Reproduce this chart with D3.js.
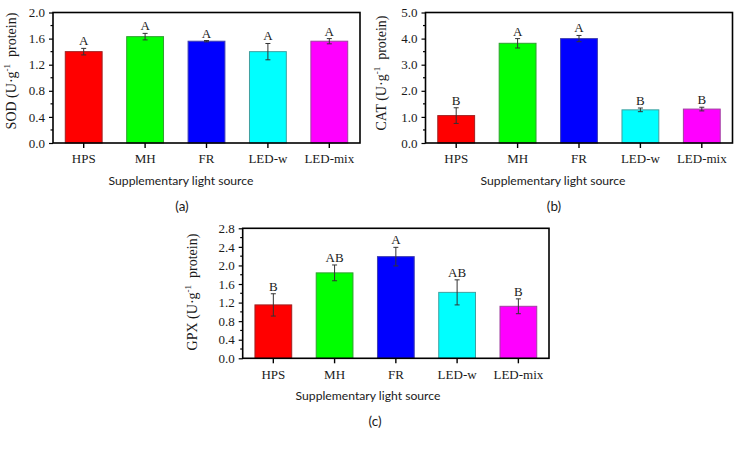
<!DOCTYPE html>
<html>
<head>
<meta charset="utf-8">
<script src="https://cdn.jsdelivr.net/npm/d3@7"></script>
<style>
  html, body { margin: 0; padding: 0; background: #fff; }
  svg { display: block; }
  .serif { font-family: "Liberation Serif", "Times New Roman", serif; fill: #1a1a1a; }
  .sans { font-family: Lato, "Open Sans", sans-serif; fill: #1a1a1a; }
</style>
</head>
<body>
<svg id="chart" width="742" height="450"></svg>
<script>
// ---------- data ----------
const categories = ["HPS", "MH", "FR", "LED-w", "LED-mix"];
const barColors = ["#ff0000", "#00ff00", "#0000ff", "#00ffff", "#ff00ff"];
const barStrokes = ["#a02020", "#30a030", "#4040b0", "#40a0a0", "#a040a0"];

const sodMean = [1.40, 1.63, 1.56, 1.40, 1.56];
const sodErr = [0.05, 0.05, 0.01, 0.125, 0.04];
const sodLetters = ["A", "A", "A", "A", "A"];
const sodTicks = [0.0, 0.4, 0.8, 1.2, 1.6, 2.0];

const catMean = [1.05, 3.82, 4.00, 1.27, 1.30];
const catErr = [0.30, 0.18, 0.12, 0.07, 0.07];
const catLetters = ["B", "A", "A", "B", "B"];
const catTicks = [0.0, 1.0, 2.0, 3.0, 4.0, 5.0];

const gpxMean = [1.15, 1.84, 2.19, 1.42, 1.12];
const gpxErr = [0.24, 0.17, 0.20, 0.27, 0.16];
const gpxLetters = ["B", "AB", "A", "AB", "B"];
const gpxTicks = [0.0, 0.4, 0.8, 1.2, 1.6, 2.0, 2.4, 2.8];

const xTitle = "Supplementary light source";

// ---------- drawing ----------
const svg = d3.select("#chart");
svg.append("rect").attr("width", 742).attr("height", 450).attr("fill", "#fff");

function panel(opts) {
  const { left, right, top, bottom, mean, err, letters, ticks, minorStep,
          yName, titleX, titleY, xTitleCX, tagCX, tag } = opts;
  const g = svg.append("g");
  const x = d3.scaleBand().domain(categories).range([left, right])
    .paddingInner(0.4).paddingOuter(0.2);
  const yMax = ticks[ticks.length - 1];
  const y = d3.scaleLinear().domain([0, yMax]).range([bottom, top]);

  // bars
  g.selectAll("rect.bar").data(categories).join("rect")
    .attr("class", "bar")
    .attr("x", d => x(d))
    .attr("width", x.bandwidth())
    .attr("y", (d, i) => y(mean[i]))
    .attr("height", (d, i) => bottom - y(mean[i]))
    .attr("fill", (d, i) => barColors[i])
    .attr("stroke", (d, i) => barStrokes[i])
    .attr("stroke-width", 1);

  // error bars
  const eb = g.selectAll("g.err").data(categories).join("g").attr("class", "err")
    .attr("stroke", "#333").attr("stroke-width", 1);
  const cx = d => x(d) + x.bandwidth() / 2;
  eb.append("line")
    .attr("x1", cx).attr("x2", cx)
    .attr("y1", (d, i) => y(mean[i] - err[i]))
    .attr("y2", (d, i) => y(mean[i] + err[i]));
  eb.append("line")
    .attr("x1", d => cx(d) - 2.5).attr("x2", d => cx(d) + 2.5)
    .attr("y1", (d, i) => y(mean[i] + err[i]))
    .attr("y2", (d, i) => y(mean[i] + err[i]));
  eb.append("line")
    .attr("x1", d => cx(d) - 2.5).attr("x2", d => cx(d) + 2.5)
    .attr("y1", (d, i) => y(mean[i] - err[i]))
    .attr("y2", (d, i) => y(mean[i] - err[i]));

  // significance letters
  g.selectAll("text.letter").data(categories).join("text")
    .attr("class", "serif letter")
    .attr("x", cx)
    .attr("y", (d, i) => y(mean[i] + err[i]) - 3)
    .attr("text-anchor", "middle")
    .attr("font-size", 13)
    .text((d, i) => letters[i]);

  // y axis (major ticks outward, minor inward)
  const yAxis = d3.axisLeft(y).tickValues(ticks).tickFormat(d3.format(".1f"))
    .tickSize(4).tickPadding(4);
  const ya = g.append("g").attr("transform", `translate(${left},0)`).call(yAxis);
  ya.select(".domain").remove();
  ya.selectAll(".tick line").attr("stroke", "#000").attr("stroke-width", 1.2);
  ya.selectAll(".tick text").attr("class", "serif").attr("font-size", 13)
    .attr("font-family", null).attr("fill", "#1a1a1a");
  const minors = d3.range(0, yMax + 1e-9, minorStep).filter(v => !ticks.some(t => Math.abs(t - v) < 1e-9));
  g.selectAll("line.minor").data(minors).join("line")
    .attr("x1", left - 2.5).attr("x2", left)
    .attr("y1", d => y(d)).attr("y2", d => y(d))
    .attr("stroke", "#000").attr("stroke-width", 1.2);

  // x axis ticks
  const xAxis = d3.axisBottom(x).tickSize(5).tickPadding(6);
  const xa = g.append("g").attr("transform", `translate(0,${bottom})`).call(xAxis);
  xa.select(".domain").remove();
  xa.selectAll(".tick line").attr("stroke", "#000").attr("stroke-width", 1.4);
  xa.selectAll(".tick text").attr("class", "serif").attr("font-size", 13)
    .attr("font-family", null).attr("fill", "#1a1a1a").attr("dy", "0.71em");

  // frame
  g.append("rect").attr("x", left).attr("y", top)
    .attr("width", right - left).attr("height", bottom - top)
    .attr("fill", "none").attr("stroke", "#000").attr("stroke-width", 1.6);

  // y title
  const yt = g.append("text").attr("class", "serif").attr("font-size", 14)
    .attr("text-anchor", "middle")
    .attr("transform", `translate(${titleX},${titleY}) rotate(-90)`);
  yt.append("tspan").text(yName + " (U\u00b7g");
  yt.append("tspan").attr("font-size", 9).attr("dy", -6).text("-1");
  yt.append("tspan").attr("dy", 6).text("\u00a0 protein)");

  // x title
  const xt = g.append("text").attr("class", "sans").attr("text-anchor", "middle")
    .attr("x", xTitleCX).attr("y", bottom + 42).attr("font-size", 13).text(xTitle);
  const len = xt.node().getComputedTextLength();
  xt.attr("font-size", 13 * 145 / len);

  g.append("text").attr("class", "sans").attr("text-anchor", "middle")
    .attr("x", tagCX).attr("y", bottom + 68).attr("font-size", 13.5).text(tag);
}

panel({ left: 53, right: 360, top: 12.5, bottom: 143, mean: sodMean, err: sodErr,
  letters: sodLetters, ticks: sodTicks, minorStep: 0.2, yName: "SOD",
  titleX: 16, titleY: 71, xTitleCX: 181, tagCX: 182, tag: "(a)" });

panel({ left: 425.5, right: 732.5, top: 12.5, bottom: 143, mean: catMean, err: catErr,
  letters: catLetters, ticks: catTicks, minorStep: 0.5, yName: "CAT",
  titleX: 386, titleY: 73, xTitleCX: 553, tagCX: 554, tag: "(b)" });

panel({ left: 242.7, right: 549, top: 228.3, bottom: 358.3, mean: gpxMean, err: gpxErr,
  letters: gpxLetters, ticks: gpxTicks, minorStep: 0.2, yName: "GPX",
  titleX: 197, titleY: 292, xTitleCX: 368, tagCX: 375, tag: "(c)" });
</script>
</body>
</html>
